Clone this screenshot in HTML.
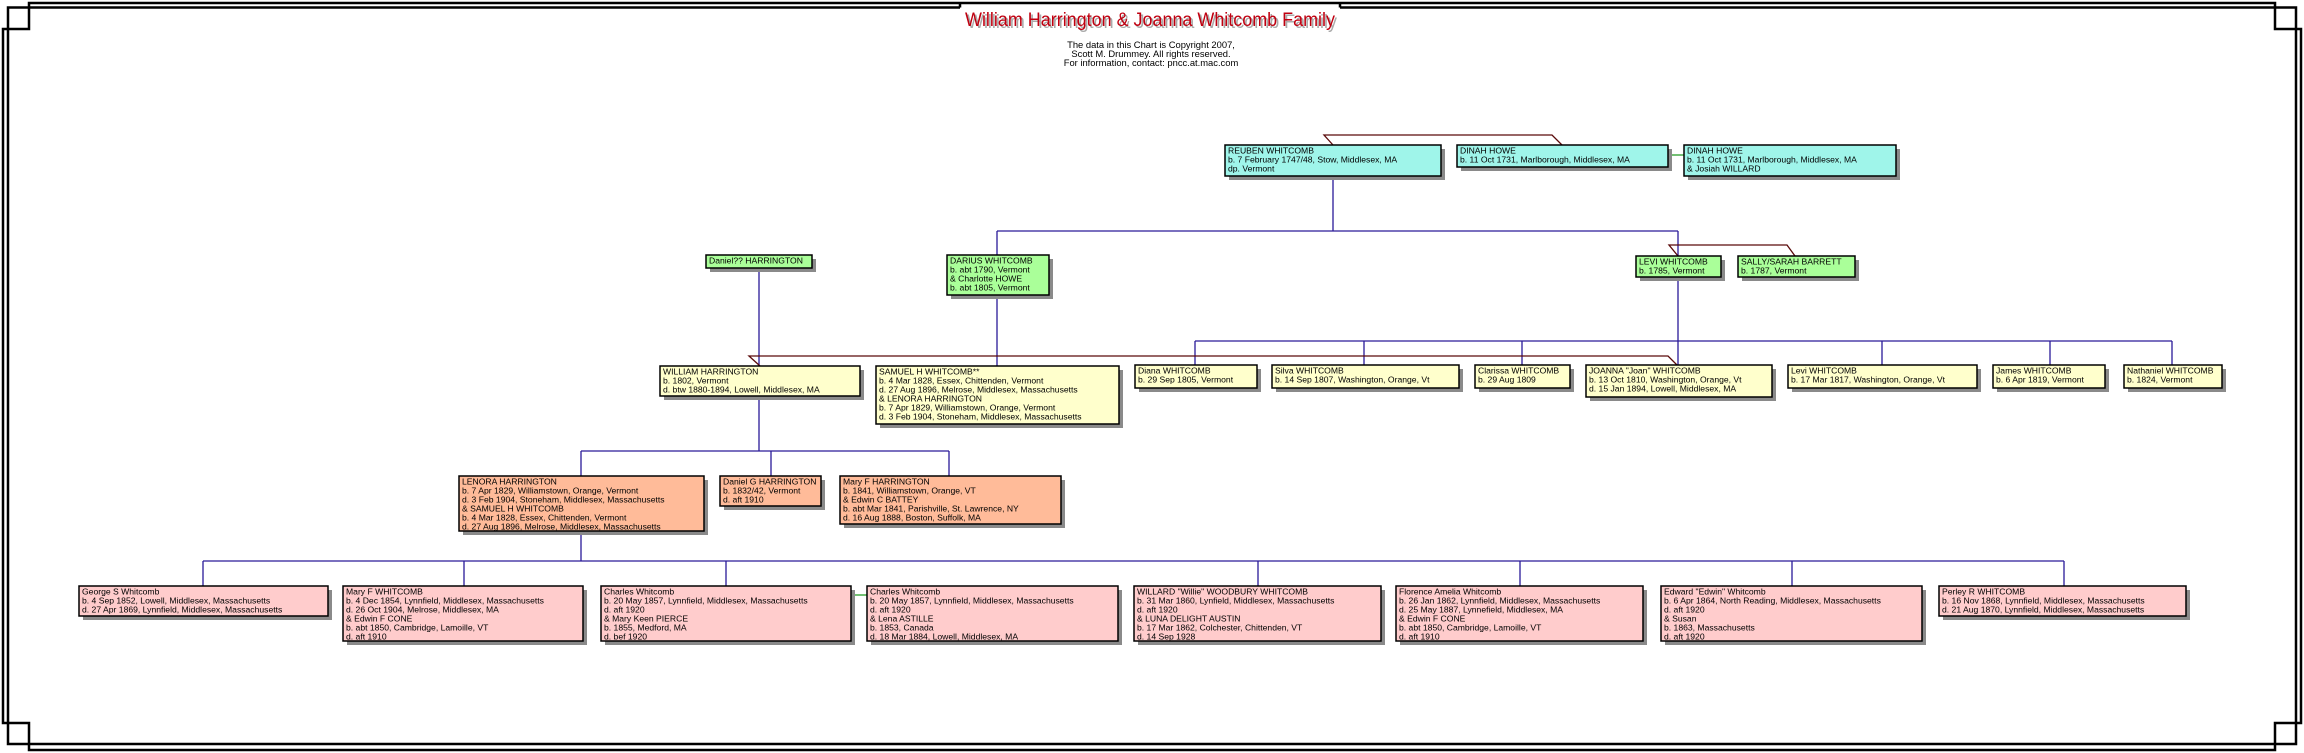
<!DOCTYPE html>
<html><head><meta charset="utf-8"><style>
html,body{margin:0;padding:0;background:#fff;}
svg{display:block;}
text{font-family:"Liberation Sans",sans-serif;font-size:8.6px;fill:#000;}
#boxes text{transform:translateY(-1.5px);}
.t{font-size:19px;fill:#c00010;}
.ts{font-size:19px;fill:#aaa;}
.c{font-size:9.4px;}
.nv{stroke:#2a1a99;stroke-width:1.3;fill:none;}
.mr{stroke:#5a0a0a;stroke-width:1.3;fill:none;}
.gr{stroke:#44aa44;stroke-width:1.5;fill:none;}
.sh{fill:#8a8a8a;}
.bx{stroke:#000;stroke-width:1.5;}
</style></head><body>
<svg width="2304" height="753" viewBox="0 0 2304 753" xmlns="http://www.w3.org/2000/svg">
<rect width="2304" height="753" fill="#fff"/>
<path d="M29,3 H2275 V29 H2301 V723 H2275 V750 H29 V723 H3 V29 H29 Z" fill="none" stroke="#000" stroke-width="2.5"/>
<path d="M960,7.5 H8 V744 H2296 V7.5 H1340 M960,7.5 V3 M1340,7.5 V3" fill="none" stroke="#000" stroke-width="2.5"/>
<text class="ts" x="967" y="28" textLength="370" lengthAdjust="spacingAndGlyphs">William Harrington &amp; Joanna Whitcomb Family</text>
<text class="t" x="965" y="26" textLength="370" lengthAdjust="spacingAndGlyphs">William Harrington &amp; Joanna Whitcomb Family</text>
<text class="c" x="1151" y="48" text-anchor="middle">The data in this Chart is Copyright 2007,</text>
<text class="c" x="1151" y="57" text-anchor="middle">Scott M. Drummey. All rights reserved.</text>
<text class="c" x="1151" y="66" text-anchor="middle">For information, contact: pncc.at.mac.com</text>

<path class="mr" d="M1333,145 L1324,135 H1552 L1562,145"/>
<path class="gr" d="M1668,155 H1684"/>
<path class="nv" d="M1333,176 V231 M997,231 H1678 M997,231 V255 M1678,231 V256"/>
<path class="mr" d="M1678,256 L1669,245 H1787 L1795,256"/>
<path class="nv" d="M759,268 V366 M997,295 V366"/>
<path class="nv" d="M1678,277 V365 M1195,341 H2172 M1195,341 V365 M1364,341 V365 M1522,341 V365 M1882,341 V365 M2050,341 V365 M2172,341 V365"/>
<path class="mr" d="M760,366 L749,356 H1668 L1677,365"/>
<path class="nv" d="M759,396 V451 M581,451 H949 M581,451 V476 M771,451 V476 M949,451 V476"/>
<path class="nv" d="M581,531 V561 M203,561 H2064 M203,561 V586 M464,561 V586 M726,561 V586 M1258,561 V586 M1520,561 V586 M1792,561 V586 M2064,561 V586"/>
<path class="gr" d="M851,595 H867"/>

<g id="boxes">
<rect class="sh" x="1229" y="149" width="216" height="31"/><rect class="bx" x="1225" y="145" width="216" height="31" fill="#9ff5ea"/>
<text x="1228" y="155">REUBEN WHITCOMB</text><text x="1228" y="164">b. 7 February 1747/48, Stow, Middlesex, MA</text><text x="1228" y="173">dp. Vermont</text>
<rect class="sh" x="1461" y="149" width="211" height="22"/><rect class="bx" x="1457" y="145" width="211" height="22" fill="#9ff5ea"/>
<text x="1460" y="155">DINAH HOWE</text><text x="1460" y="164">b. 11 Oct 1731, Marlborough, Middlesex, MA</text>
<rect class="sh" x="1688" y="149" width="212" height="31"/><rect class="bx" x="1684" y="145" width="212" height="31" fill="#9ff5ea"/>
<text x="1687" y="155">DINAH HOWE</text><text x="1687" y="164">b. 11 Oct 1731, Marlborough, Middlesex, MA</text><text x="1687" y="173">&amp; Josiah WILLARD</text>

<rect class="sh" x="710" y="259" width="106" height="13"/><rect class="bx" x="706" y="255" width="106" height="13" fill="#aaff99"/>
<text x="709" y="265">Daniel?? HARRINGTON</text>
<rect class="sh" x="951" y="259" width="102" height="40"/><rect class="bx" x="947" y="255" width="102" height="40" fill="#aaff99"/>
<text x="950" y="265">DARIUS WHITCOMB</text><text x="950" y="274">b. abt 1790, Vermont</text><text x="950" y="283">&amp; Charlotte HOWE</text><text x="950" y="292">b. abt 1805, Vermont</text>
<rect class="sh" x="1640" y="260" width="85" height="21"/><rect class="bx" x="1636" y="256" width="85" height="21" fill="#aaff99"/>
<text x="1639" y="266">LEVI WHITCOMB</text><text x="1639" y="275">b. 1785, Vermont</text>
<rect class="sh" x="1742" y="260" width="117" height="21"/><rect class="bx" x="1738" y="256" width="117" height="21" fill="#aaff99"/>
<text x="1741" y="266">SALLY/SARAH BARRETT</text><text x="1741" y="275">b. 1787, Vermont</text>

<rect class="sh" x="664" y="370" width="200" height="30"/><rect class="bx" x="660" y="366" width="200" height="30" fill="#ffffcc"/>
<text x="663" y="376">WILLIAM HARRINGTON</text><text x="663" y="385">b. 1802, Vermont</text><text x="663" y="394">d. btw 1880-1894, Lowell, Middlesex, MA</text>
<rect class="sh" x="880" y="370" width="243" height="58"/><rect class="bx" x="876" y="366" width="243" height="58" fill="#ffffcc"/>
<text x="879" y="376">SAMUEL H WHITCOMB**</text><text x="879" y="385">b. 4 Mar 1828, Essex, Chittenden, Vermont</text><text x="879" y="394">d. 27 Aug 1896, Melrose, Middlesex, Massachusetts</text><text x="879" y="403">&amp; LENORA HARRINGTON</text><text x="879" y="412">b. 7 Apr 1829, Williamstown, Orange, Vermont</text><text x="879" y="421">d. 3 Feb 1904, Stoneham, Middlesex, Massachusetts</text>
<rect class="sh" x="1139" y="369" width="122" height="23"/><rect class="bx" x="1135" y="365" width="122" height="23" fill="#ffffcc"/>
<text x="1138" y="375">Diana WHITCOMB</text><text x="1138" y="384">b. 29 Sep 1805, Vermont</text>
<rect class="sh" x="1276" y="369" width="187" height="23"/><rect class="bx" x="1272" y="365" width="187" height="23" fill="#ffffcc"/>
<text x="1275" y="375">Silva WHITCOMB</text><text x="1275" y="384">b. 14 Sep 1807, Washington, Orange, Vt</text>
<rect class="sh" x="1479" y="369" width="95" height="23"/><rect class="bx" x="1475" y="365" width="95" height="23" fill="#ffffcc"/>
<text x="1478" y="375">Clarissa WHITCOMB</text><text x="1478" y="384">b. 29 Aug 1809</text>
<rect class="sh" x="1590" y="369" width="186" height="32"/><rect class="bx" x="1586" y="365" width="186" height="32" fill="#ffffcc"/>
<text x="1589" y="375">JOANNA "Joan" WHITCOMB</text><text x="1589" y="384">b. 13 Oct 1810, Washington, Orange, Vt</text><text x="1589" y="393">d. 15 Jan 1894, Lowell, Middlesex, MA</text>
<rect class="sh" x="1792" y="369" width="189" height="23"/><rect class="bx" x="1788" y="365" width="189" height="23" fill="#ffffcc"/>
<text x="1791" y="375">Levi WHITCOMB</text><text x="1791" y="384">b. 17 Mar 1817, Washington, Orange, Vt</text>
<rect class="sh" x="1997" y="369" width="112" height="23"/><rect class="bx" x="1993" y="365" width="112" height="23" fill="#ffffcc"/>
<text x="1996" y="375">James WHITCOMB</text><text x="1996" y="384">b. 6 Apr 1819, Vermont</text>
<rect class="sh" x="2128" y="369" width="98" height="23"/><rect class="bx" x="2124" y="365" width="98" height="23" fill="#ffffcc"/>
<text x="2127" y="375">Nathaniel WHITCOMB</text><text x="2127" y="384">b. 1824, Vermont</text>

<rect class="sh" x="463" y="480" width="245" height="55"/><rect class="bx" x="459" y="476" width="245" height="55" fill="#ffbb99"/>
<text x="462" y="486">LENORA HARRINGTON</text><text x="462" y="495">b. 7 Apr 1829, Williamstown, Orange, Vermont</text><text x="462" y="504">d. 3 Feb 1904, Stoneham, Middlesex, Massachusetts</text><text x="462" y="513">&amp; SAMUEL H WHITCOMB</text><text x="462" y="522">b. 4 Mar 1828, Essex, Chittenden, Vermont</text><text x="462" y="531">d. 27 Aug 1896, Melrose, Middlesex, Massachusetts</text>
<rect class="sh" x="724" y="480" width="101" height="30"/><rect class="bx" x="720" y="476" width="101" height="30" fill="#ffbb99"/>
<text x="723" y="486">Daniel G HARRINGTON</text><text x="723" y="495">b. 1832/42, Vermont</text><text x="723" y="504">d. aft 1910</text>
<rect class="sh" x="844" y="480" width="221" height="48"/><rect class="bx" x="840" y="476" width="221" height="48" fill="#ffbb99"/>
<text x="843" y="486">Mary F HARRINGTON</text><text x="843" y="495">b. 1841, Williamstown, Orange, VT</text><text x="843" y="504">&amp; Edwin C BATTEY</text><text x="843" y="513">b. abt Mar 1841, Parishville, St. Lawrence, NY</text><text x="843" y="522">d. 16 Aug 1888, Boston, Suffolk, MA</text>

<rect class="sh" x="83" y="590" width="249" height="30"/><rect class="bx" x="79" y="586" width="249" height="30" fill="#ffcccc"/>
<text x="82" y="596">George S Whitcomb</text><text x="82" y="605">b. 4 Sep 1852, Lowell, Middlesex, Massachusetts</text><text x="82" y="614">d. 27 Apr 1869, Lynnfield, Middlesex, Massachusetts</text>
<rect class="sh" x="347" y="590" width="240" height="55"/><rect class="bx" x="343" y="586" width="240" height="55" fill="#ffcccc"/>
<text x="346" y="596">Mary F WHITCOMB</text><text x="346" y="605">b. 4 Dec 1854, Lynnfield, Middlesex, Massachusetts</text><text x="346" y="614">d. 26 Oct 1904, Melrose, Middlesex, MA</text><text x="346" y="623">&amp; Edwin F CONE</text><text x="346" y="632">b. abt 1850, Cambridge, Lamoille, VT</text><text x="346" y="641">d. aft 1910</text>
<rect class="sh" x="605" y="590" width="250" height="55"/><rect class="bx" x="601" y="586" width="250" height="55" fill="#ffcccc"/>
<text x="604" y="596">Charles Whitcomb</text><text x="604" y="605">b. 20 May 1857, Lynnfield, Middlesex, Massachusetts</text><text x="604" y="614">d. aft 1920</text><text x="604" y="623">&amp; Mary Keen PIERCE</text><text x="604" y="632">b. 1855, Medford, MA</text><text x="604" y="641">d. bef 1920</text>
<rect class="sh" x="871" y="590" width="251" height="55"/><rect class="bx" x="867" y="586" width="251" height="55" fill="#ffcccc"/>
<text x="870" y="596">Charles Whitcomb</text><text x="870" y="605">b. 20 May 1857, Lynnfield, Middlesex, Massachusetts</text><text x="870" y="614">d. aft 1920</text><text x="870" y="623">&amp; Lena ASTILLE</text><text x="870" y="632">b. 1853, Canada</text><text x="870" y="641">d. 18 Mar 1884, Lowell, Middlesex, MA</text>
<rect class="sh" x="1138" y="590" width="247" height="55"/><rect class="bx" x="1134" y="586" width="247" height="55" fill="#ffcccc"/>
<text x="1137" y="596">WILLARD "Willie" WOODBURY WHITCOMB</text><text x="1137" y="605">b. 31 Mar 1860, Lynfield, Middlesex, Massachusetts</text><text x="1137" y="614">d. aft 1920</text><text x="1137" y="623">&amp; LUNA DELIGHT AUSTIN</text><text x="1137" y="632">b. 17 Mar 1862, Colchester, Chittenden, VT</text><text x="1137" y="641">d. 14 Sep 1928</text>
<rect class="sh" x="1400" y="590" width="247" height="55"/><rect class="bx" x="1396" y="586" width="247" height="55" fill="#ffcccc"/>
<text x="1399" y="596">Florence Amelia Whitcomb</text><text x="1399" y="605">b. 26 Jan 1862, Lynnfield, Middlesex, Massachusetts</text><text x="1399" y="614">d. 25 May 1887, Lynnefield, Middlesex, MA</text><text x="1399" y="623">&amp; Edwin F CONE</text><text x="1399" y="632">b. abt 1850, Cambridge, Lamoille, VT</text><text x="1399" y="641">d. aft 1910</text>
<rect class="sh" x="1665" y="590" width="261" height="55"/><rect class="bx" x="1661" y="586" width="261" height="55" fill="#ffcccc"/>
<text x="1664" y="596">Edward "Edwin" Whitcomb</text><text x="1664" y="605">b. 6 Apr 1864, North Reading, Middlesex, Massachusetts</text><text x="1664" y="614">d. aft 1920</text><text x="1664" y="623">&amp; Susan</text><text x="1664" y="632">b. 1863, Massachusetts</text><text x="1664" y="641">d. aft 1920</text>
<rect class="sh" x="1943" y="590" width="247" height="30"/><rect class="bx" x="1939" y="586" width="247" height="30" fill="#ffcccc"/>
<text x="1942" y="596">Perley R WHITCOMB</text><text x="1942" y="605">b. 16 Nov 1868, Lynnfield, Middlesex, Massachusetts</text><text x="1942" y="614">d. 21 Aug 1870, Lynnfield, Middlesex, Massachusetts</text>
</g>
</svg>
</body></html>
